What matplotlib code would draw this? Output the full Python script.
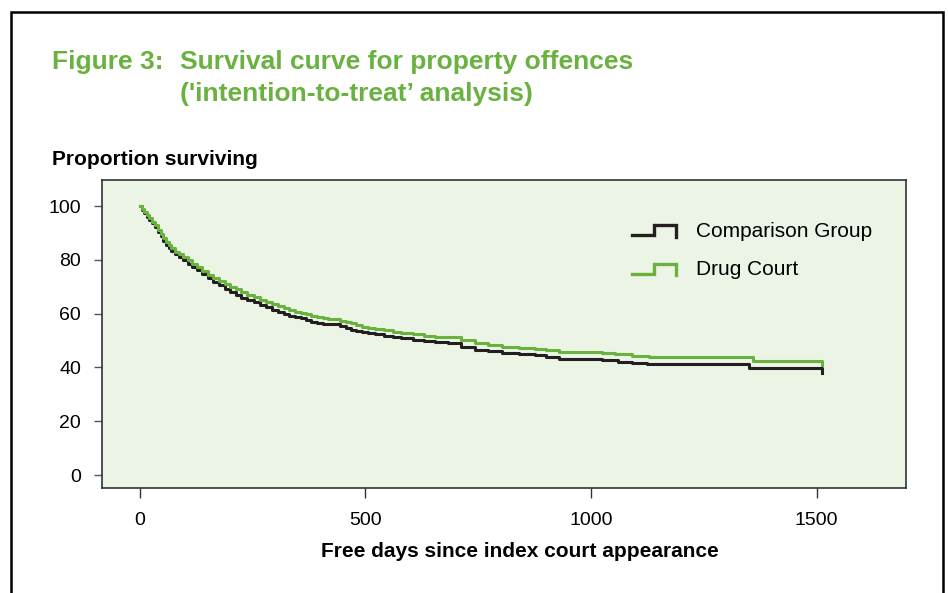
# -*- coding: utf-8 -*-

import matplotlib
matplotlib.use('Agg')
import matplotlib.pyplot as plt
from matplotlib.lines import Line2D
from matplotlib.patches import Rectangle
from matplotlib.legend_handler import HandlerBase

plt.rcParams['font.family'] = ['Liberation Sans', 'DejaVu Sans']

# Kaplan-Meier style survival estimates (days, % surviving)
days_comp = [0, 5, 10, 15, 20, 26, 33, 40, 46, 52, 58, 64, 70, 78, 87, 96, 106, 116, 126,
             138, 150, 163, 175, 188, 200, 213, 225, 238, 252, 266, 280, 293, 306, 319,
             331, 343, 356, 368, 380, 393, 405, 418, 430, 443, 456, 468, 480, 493, 505,
             522, 540, 560, 579, 605, 630, 655, 683, 712, 742, 772, 802, 840, 876, 900,
             928, 980, 1024, 1060, 1090, 1125, 1351, 1512]
surv_comp = [100, 98.6, 97.3, 96.0, 94.8, 93.6, 92.3, 90.5, 88.8, 87.0, 85.6, 84.3, 83.3,
             82.2, 81.1, 80.0, 78.6, 77.4, 76.2, 74.7, 73.2, 71.8, 70.6, 69.3, 68.1, 67.0,
             66.0, 65.0, 64.2, 63.3, 62.5, 61.5, 60.6, 59.8, 59.3, 58.8, 58.3, 57.6, 57.0,
             56.6, 56.2, 56.1, 56.0, 55.3, 54.6, 53.9, 53.5, 53.1, 52.8, 52.3, 51.8, 51.4,
             51.0, 50.4, 49.9, 49.4, 49.0, 47.8, 46.6, 46.0, 45.4, 45.0, 44.6, 43.9, 43.1,
             43.1, 42.8, 42.1, 41.7, 41.3, 39.9, 37.8]

days_drug = [0, 5, 10, 15, 20, 26, 33, 40, 46, 52, 58, 64, 70, 78, 87, 96, 106, 116, 126,
             138, 150, 163, 175, 188, 200, 213, 225, 238, 252, 266, 280, 293, 306, 319,
             331, 343, 356, 368, 380, 393, 405, 418, 430, 443, 456, 468, 480, 493, 505,
             522, 540, 560, 579, 605, 630, 655, 683, 712, 742, 772, 802, 840, 876, 900,
             928, 980, 1024, 1054, 1090, 1128, 1358, 1512]
surv_drug = [100, 98.8, 97.7, 96.6, 95.4, 94.2, 92.9, 91.2, 89.6, 88.0, 86.7, 85.4, 84.3,
             83.1, 82.1, 81.2, 79.9, 78.6, 77.4, 75.9, 74.5, 73.1, 72.0, 71.0, 70.0, 69.0,
             68.0, 67.0, 66.1, 65.2, 64.4, 63.6, 62.8, 62.0, 61.4, 60.8, 60.3, 59.7, 59.2,
             58.6, 58.4, 58.1, 57.9, 57.4, 56.9, 56.4, 55.8, 55.2, 54.7, 54.2, 53.8, 53.3,
             52.9, 52.3, 51.8, 51.5, 51.2, 50.1, 49.0, 48.3, 47.6, 47.3, 47.0, 46.4, 45.8,
             45.6, 45.4, 44.9, 44.4, 43.9, 42.5, 41.0]

x_ticks = [0, 500, 1000, 1500]
y_ticks = [0, 20, 40, 60, 80, 100]

GREEN = '#6AB23F'
DARK = '#231F20'
W, H = 948, 593


class StepHandler(HandlerBase):
    # legend glyph shaped like a survival step: low run, step up, across, down
    def create_artists(self, legend, orig_handle, xdescent, ydescent,
                       width, height, fontsize, trans):
        x0, y0 = -xdescent, -ydescent
        xs = [x0, x0 + 0.5 * width, x0 + 0.5 * width, x0 + width, x0 + width]
        ys = [y0 + 0.05 * height, y0 + 0.05 * height, y0 + 0.8 * height,
              y0 + 0.8 * height, y0 - 0.05 * height]
        ln = Line2D(xs, ys, color=orig_handle.get_color(), lw=2.4,
                    solid_joinstyle='miter', transform=trans)
        return [ln]


fig = plt.figure(figsize=(W / 100, H / 100), dpi=100)

# outer frame of the figure box (open at the bottom)
fig.patches.append(Rectangle((10.5 / W, -0.05), 932 / W, 1.05 - 11.5 / H,
                             transform=fig.transFigure, fill=False,
                             edgecolor='black', lw=1.8))

ax = fig.add_axes([102 / W, 1 - 488 / H, 804 / W, 308 / H])
ax.set_facecolor('#EBF4E5')

l1, = ax.plot(days_comp, surv_comp, drawstyle='steps-post', color=DARK, lw=2.2,
              label='Comparison Group')
l2, = ax.plot(days_drug, surv_drug, drawstyle='steps-post', color=GREEN, lw=2.2,
              label='Drug Court')

ax.set_xlim(-84, 1698)
ax.set_ylim(-4.8, 109.7)
ax.set_xticks(x_ticks)
ax.set_yticks(y_ticks)
ax.tick_params(axis='x', length=7, width=1, color='#333333', pad=10, labelsize=14)
ax.tick_params(axis='y', length=6, width=1, color='#555555', pad=9, labelsize=14)
for s in ax.spines.values():
    s.set_color('#333333')
    s.set_linewidth(1.2)

ax.legend(handles=[l1, l2], handler_map={Line2D: StepHandler()},
          loc='upper left', bbox_to_anchor=(0.659, 0.865), frameon=False,
          fontsize=15, handlelength=2.1, handleheight=0.6, handletextpad=1.0,
          labelspacing=0.95, borderpad=0, borderaxespad=0)

# titles and axis captions
fig.text(52 / W, 1 - 69 / H, 'Figure 3:', color=GREEN, fontsize=19,
         fontweight='bold', va='baseline', ha='left')
fig.text(180 / W, 1 - 69 / H, 'Survival curve for property offences', color=GREEN,
         fontsize=19, fontweight='bold', va='baseline', ha='left')
fig.text(180 / W, 1 - 101 / H, "('intention-to-treat\u2019 analysis)", color=GREEN,
         fontsize=19, fontweight='bold', va='baseline', ha='left')
fig.text(52 / W, 1 - 165 / H, 'Proportion surviving', fontsize=15,
         fontweight='bold', va='baseline', ha='left')
fig.text(520 / W, 1 - 557 / H, 'Free days since index court appearance', fontsize=15,
         fontweight='bold', va='baseline', ha='center')

fig.savefig('out.png', dpi=100)
